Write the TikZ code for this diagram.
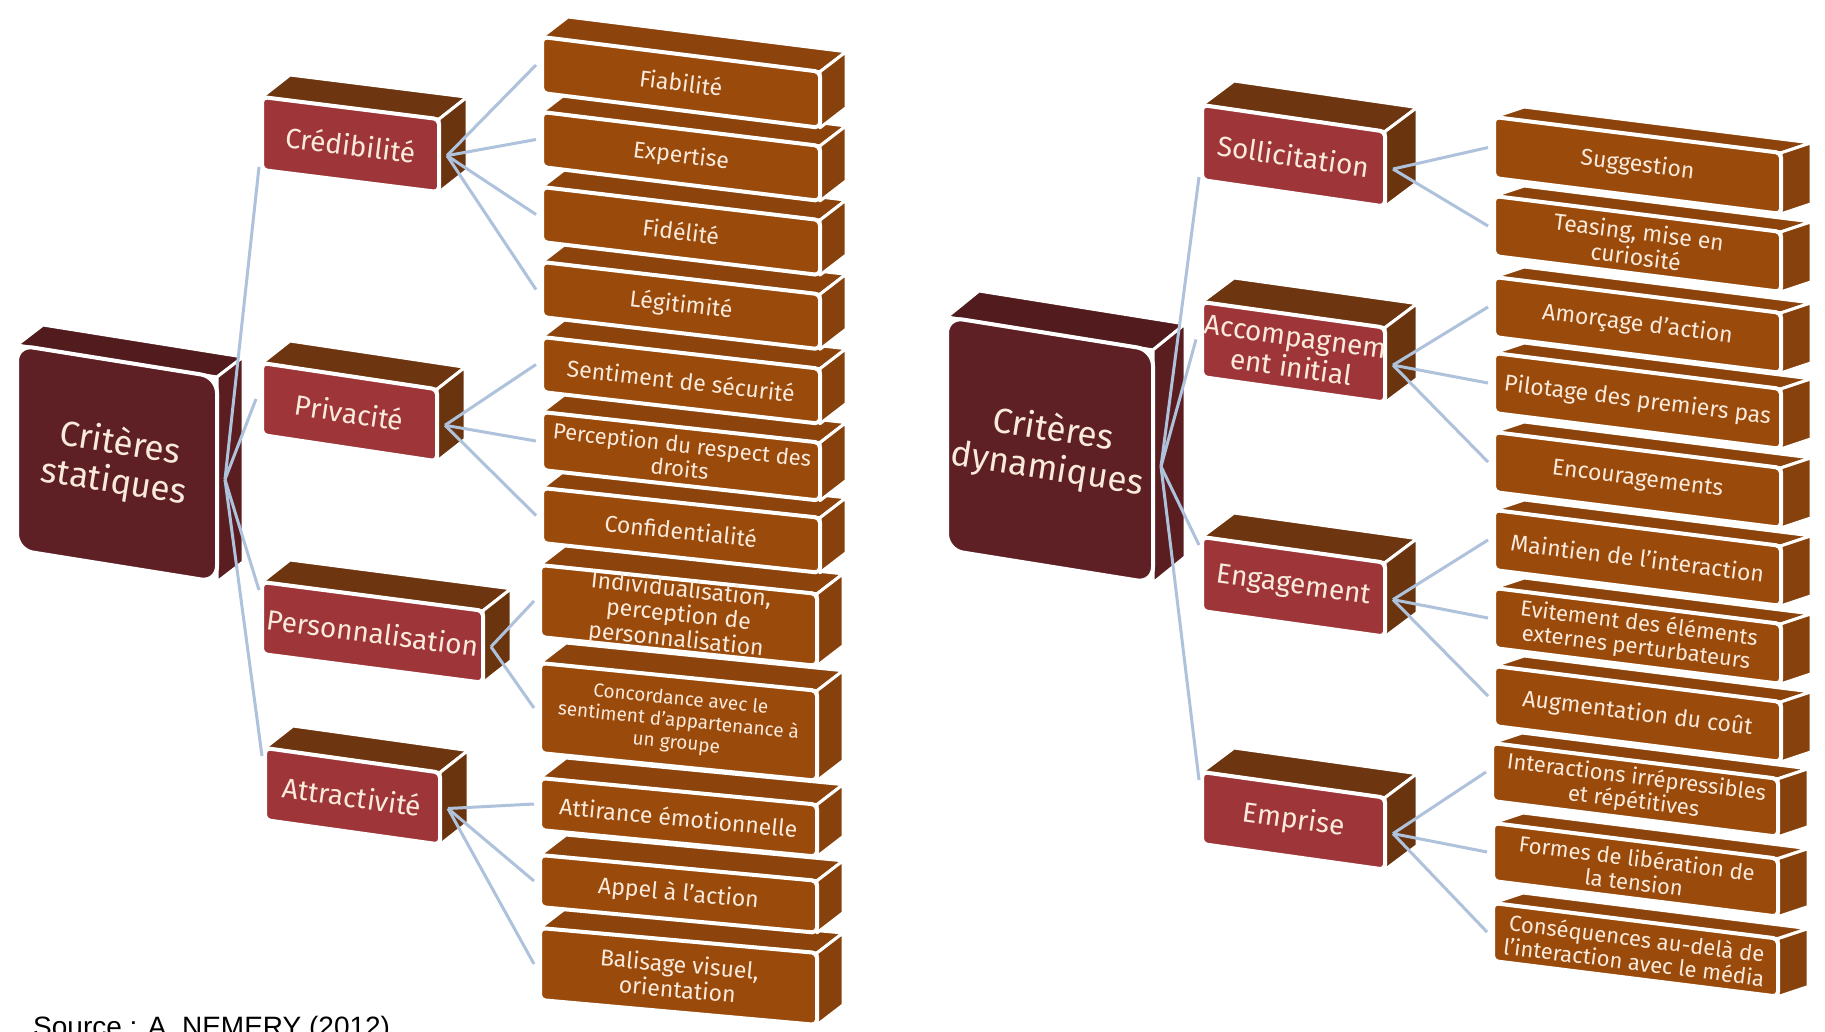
\documentclass[tikz,border=0pt]{standalone}
\usepackage{fontspec}
\setmainfont{Fira Sans}
\newfontfamily\srcfont{Liberation Sans}
\definecolor{rootF}{HTML}{5E2024}
\definecolor{rootT}{HTML}{521B1E}
\definecolor{rootS}{HTML}{5A1E21}
\definecolor{midF}{HTML}{9E3538}
\definecolor{midT}{HTML}{6E3610}
\definecolor{midS}{HTML}{6A340F}
\definecolor{leafF}{HTML}{9A4A0A}
\definecolor{leafT}{HTML}{8C440C}
\definecolor{leafS}{HTML}{86410C}
\definecolor{txtc}{HTML}{FAEADC}
\definecolor{connc}{HTML}{AEC2DC}
\newcommand{\threed}[9]{%
\pgfmathsetmacro\qxa{#2}%
\pgfmathsetmacro\qya{#3}%
\pgfmathsetmacro\qxb{#2+#4}%
\pgfmathsetmacro\qyb{#3+#6*#4}%
\pgfmathsetmacro\qyc{#3+#6*#4+#5}%
\pgfmathsetmacro\qyd{#3+#5}%
\pgfmathsetmacro\qxm{#2+#4/2}%
\pgfmathsetmacro\qym{#3+#6*#4/2+#5/2}%
\pgfmathsetmacro\qang{-atan(#6)}%
\pgfmathsetmacro\qxe{#2+#4+#7}%
\pgfmathsetmacro\qxf{#2+#7}%
\pgfmathsetmacro\qyba{#3+#6*#4-#8}%
\pgfmathsetmacro\qyca{#3+#6*#4+#5-#8}%
\pgfmathsetmacro\qyaa{#3-#8}%
\path[topface] (\qxa,\qya) -- (\qxb,\qyb) -- (\qxe,\qyba) -- (\qxf,\qyaa) -- cycle;
\path[sideface] (\qxb,\qyb) -- (\qxe,\qyba) -- (\qxe,\qyca) -- (\qxb,\qyc) -- cycle;
\path[frontface] (\qxa,\qya) -- (\qxb,\qyb) -- (\qxb,\qyc) -- (\qxa,\qyd) -- cycle;
\node[boxtext, rotate=\qang] (#1) at (\qxm,\qym) {#9};
\coordinate (#1-w) at (\qxa-6,\qya+#5/2);
\coordinate (#1-nw) at (\qxa-3,\qya+8);
\coordinate (#1-sw) at (\qxa-3,\qyd-3);
\coordinate (#1-e) at (\qxb+8,\qyb+#5/2);
}
\begin{document}
\begin{tikzpicture}[x=1pt,y=-1pt,
  conn/.style={draw=connc,line width=3pt},
  boxtext/.style={text=txtc,align=center,inner sep=0pt}]
\useasboundingbox[fill=white] (0,0) rectangle (1825,1031);

% ---------- roots ----------
\begin{scope}[topface/.style={fill=rootT,draw=white,line width=3pt,line join=round},
  sideface/.style={fill=rootS,draw=white,line width=3pt,line join=round},
  frontface/.style={fill=rootF,draw=white,line width=4pt,rounded corners=16pt},
  boxtext/.append style={font=\fontsize{35}{39}\selectfont}]
\threed{rs}{17}{345}{200}{205}{0.16}{26}{20}{Critères\\statiques}
\threed{rd}{947}{317}{206}{233}{0.16}{32}{26}{Critères\\dynamiques}
\end{scope}

% ---------- level 2 ----------
\begin{scope}[topface/.style={fill=midT,draw=white,line width=3pt,line join=round},
  sideface/.style={fill=midS,draw=white,line width=3pt,line join=round},
  frontface/.style={fill=midF,draw=white,line width=4pt,rounded corners=5pt},
  boxtext/.append style={font=\fontsize{28}{31}\selectfont}]
\threed{cred}{262}{97}{177}{73}{0.125}{28}{22}{Crédibilité}
\threed{priv}{262}{363}{175}{72}{0.15}{28}{22}{Privacité}
\threed{pers}{262}{582}{221}{72}{0.13}{28}{22}{Personnalisation}
\threed{attr}{265}{748}{175}{72}{0.14}{28}{22}{Attractivité}
\threed{soll}{1202}{105}{183}{75}{0.145}{32}{24}{Sollicitation}
\threed{acc}{1202}{302}{183}{75}{0.14}{32}{24}{Accompagnem\\ent initial}
\threed{eng}{1202}{537}{183}{74}{0.14}{32}{24}{Engagement}
\threed{emp}{1202}{772}{183}{72}{0.14}{32}{24}{Emprise}
\end{scope}

% ---------- level 3 ----------
\begin{scope}[topface/.style={fill=leafT,draw=white,line width=3pt,line join=round},
  sideface/.style={fill=leafS,draw=white,line width=3pt,line join=round},
  frontface/.style={fill=leafF,draw=white,line width=4pt,rounded corners=5pt},
  boxtext/.append style={font=\fontsize{23}{25}\selectfont}]
% left column, bottom to top
\threed{bal}{540}{928}{277}{72}{0.090}{26}{20}{Balisage visuel,\\orientation}
\threed{app}{540}{855}{277}{52}{0.093}{26}{20}{Appel à l’action}
\threed{att}{540}{778}{277}{52}{0.096}{26}{20}{Attirance émotionnelle}
\begin{scope}[boxtext/.append style={font=\fontsize{19}{22}\selectfont}]
\threed{conc}{540}{663}{277}{90}{0.100}{26}{20}{Concordance avec le\\sentiment d’appartenance à\\un groupe}
\end{scope}
\threed{ind}{540}{565}{277}{72}{0.104}{26}{20}{Individualisation,\\perception de\\personnalisation}
\threed{conf}{542}{488}{278}{55}{0.107}{26}{20}{Confidentialité}
\begin{scope}[boxtext/.append style={font=\fontsize{22}{24}\selectfont}]
\threed{perc}{542}{412}{278}{58}{0.110}{26}{20}{Perception du respect des\\droits}
\end{scope}
\threed{sent}{542}{337}{278}{55}{0.114}{26}{20}{Sentiment de sécurité}
\threed{leg}{542}{262}{278}{55}{0.116}{26}{20}{Légitimité}
\threed{fid}{542}{187}{278}{55}{0.119}{26}{20}{Fidélité}
\threed{exp}{542}{112}{278}{55}{0.122}{26}{20}{Expertise}
\threed{fia}{542}{37}{278}{56}{0.125}{26}{20}{Fiabilité}
% right column, bottom to top
\begin{scope}[boxtext/.append style={font=\fontsize{22}{24}\selectfont}]
\threed{cons}{1493}{903}{285}{58}{0.125}{30}{10}{Conséquences au-delà de\\l’interaction avec le média}
\threed{form}{1493}{823}{285}{58}{0.125}{30}{10}{Formes de libération de\\la tension}
\threed{inter}{1492}{743}{286}{58}{0.125}{30}{10}{Interactions irrépressibles\\et répétitives}
\end{scope}
\threed{aug}{1494}{666}{287}{60}{0.125}{30}{10}{Augmentation du coût}
\begin{scope}[boxtext/.append style={font=\fontsize{22}{24}\selectfont}]
\threed{evit}{1494}{588}{287}{60}{0.125}{30}{10}{Evitement des éléments\\externes perturbateurs}
\end{scope}
\threed{maint}{1494}{510}{287}{60}{0.125}{30}{10}{Maintien de l’interaction}
\threed{enc}{1494}{432}{287}{60}{0.125}{30}{10}{Encouragements}
\threed{pil}{1494}{353}{287}{60}{0.125}{30}{10}{Pilotage des premiers pas}
\threed{amo}{1494}{277}{287}{60}{0.125}{30}{10}{Amorçage d’action}
\threed{teas}{1494}{196}{287}{60}{0.125}{30}{10}{Teasing, mise en\\curiosité}
\threed{sugg}{1494}{117}{287}{61}{0.125}{30}{10}{Suggestion}
\end{scope}

% ---------- connectors ----------
\draw[conn] (rs-e) -- (cred-sw);
\draw[conn] (rs-e) -- (priv-w);
\draw[conn] (rs-e) -- (pers-nw);
\draw[conn] (rs-e) -- (attr-nw);
\draw[conn] (rd-e) -- (soll-sw);
\draw[conn] (rd-e) -- (acc-w);
\draw[conn] (rd-e) -- (eng-nw);
\draw[conn] (rd-e) -- (emp-nw);
\foreach \b in {fia,exp,fid,leg} \draw[conn] (cred-e) -- (\b-w);
\foreach \b in {sent,perc,conf} \draw[conn] (priv-e) -- (\b-w);
\foreach \b in {ind,conc} \draw[conn] (pers-e) -- (\b-w);
\foreach \b in {att,app,bal} \draw[conn] (attr-e) -- (\b-w);
\foreach \b in {sugg,teas} \draw[conn] (soll-e) -- (\b-w);
\foreach \b in {amo,pil,enc} \draw[conn] (acc-e) -- (\b-w);
\foreach \b in {maint,evit,aug} \draw[conn] (eng-e) -- (\b-w);
\foreach \b in {inter,form,cons} \draw[conn] (emp-e) -- (\b-w);

\node[anchor=base west,inner sep=0pt,font=\srcfont\fontsize{28}{30}\selectfont] (src) at (33,1036) {Source : A. NEMERY (2012)};
\end{tikzpicture}
\end{document}
